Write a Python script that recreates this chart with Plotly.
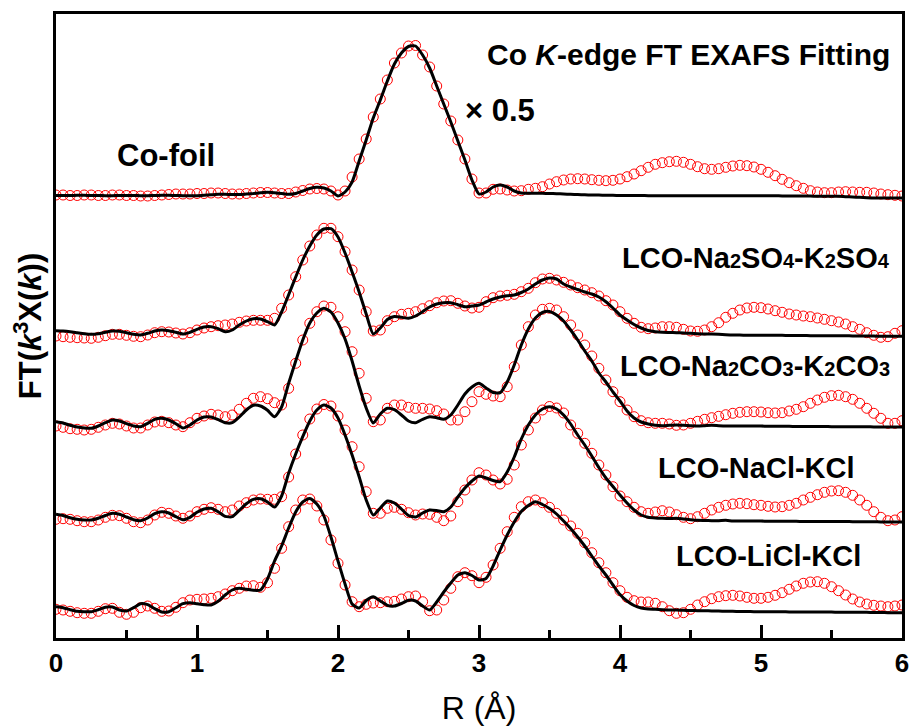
import numpy as np
import plotly.graph_objects as go

# R grid (Å), 0.05 step
R = np.round(np.linspace(0, 6, 121), 2)

# Curves: FT magnitude (a.u.) relative to each curve's own baseline
CO_FOIL_DATA = [
    2, 2, 1.5, 1.5, 2, 2, 1.5, 1.5, 2, 2, 1.5, 1.5, 1, 1, 1.5, 2, 2.5, 3, 3, 3,
    3.5, 3.5, 4, 4, 3.5, 3, 3, 3.5, 4, 4.5, 4.5, 4, 3.5, 3.5, 5, 6.5, 8, 8.5, 8, 6,
    2, 6, 20, 38, 58, 80, 98, 117, 134, 144, 151, 151.5, 142, 130, 111, 93, 76, 57, 38, 18,
    4, 4, 7.7, 8, 7, 6, 6.3, 7.7, 8.7, 10.3, 13, 15.3, 17, 18, 18.3, 18, 17.3, 16.7, 16.3, 16.7,
    18, 20.3, 23, 26.3, 29.7, 32.7, 34.3, 35.3, 35.7, 34.7, 32.7, 30.3, 28.3, 27.7, 28.3, 29.7, 31, 31.7, 31.3, 30,
    27.7, 24.7, 21.3, 17.7, 14.3, 11.3, 8.7, 6.3, 5, 4.3, 4.3, 5, 5.3, 5, 4.7, 4.7, 4, 3, 2.3, 1.7,
    1,
]
CO_FOIL_FIT = [
    1.5, 1.5, 1.5, 1.7, 1.7, 1.5, 1.5, 1.3, 1.3, 1.5, 1.5, 1.5, 1.3, 1.3, 1.5, 1.7, 1.7, 1.5, 1.3, 1.3,
    1.3, 1.7, 2.2, 2.7, 2.7, 2.5, 2.5, 3, 3.5, 4.2, 4.7, 4.2, 3.5, 2.7, 3.5, 6, 8.5, 9.7, 9, 6,
    1, 5, 15, 36, 57, 79, 97, 116, 133, 144, 150.5, 151, 142, 129, 111, 93, 75, 56, 37, 17,
    3, 5, 10, 12, 10, 6, 4, 3.7, 3.7, 3.7, 3.5, 3.3, 3, 2.7, 2.5, 2.2, 2, 2, 1.7, 1.7,
    1.5, 1.5, 1.5, 1.5, 1.3, 1.3, 1.3, 1.3, 1.3, 1.3, 1.3, 1.3, 1.3, 1.3, 1.3, 1.3, 1.3, 1.3, 1.3, 1.3,
    1.3, 1.3, 1.3, 1, 1, 1, 1, 1, 0.7, 0.7, 0.7, 0.7, 0.3, 0, -0.3, -0.7, -1, -1, -1, -1,
    -1,
]
NA2SO4_DATA = [
    0, -0.7, -1.3, -1.7, -2, -2.3, -1.3, 0.3, 1.7, 1.7, 0.7, -0.3, -0.7, 1, 3.3, 4.3, 4, 3, 2, 3.3,
    6, 8, 9.3, 10.3, 11, 12, 13.7, 15, 15.7, 15.7, 15.7, 17.7, 27.7, 41, 59.3, 76, 90, 101, 107.7, 107.7,
    99.3, 84.3, 66, 46, 24.3, 5, 6, 15.3, 19.3, 21.7, 22.7, 24.3, 27.3, 30.3, 33.3, 35, 35.3, 32.7, 30, 28,
    28.7, 34.3, 38.3, 40, 40.7, 41.7, 44.3, 47.7, 53.3, 57, 57.7, 56, 53.7, 51, 48.3, 46, 43.3, 40, 35.3, 31,
    24.3, 17.7, 12.7, 8.7, 7.3, 8, 9.3, 9.3, 8.7, 6.7, 5, 4.7, 6, 9.3, 13.3, 18.7, 22.7, 26, 28, 28.7,
    28.3, 27, 25.3, 23.7, 22, 21, 20, 19.3, 18, 16.7, 15.3, 14, 12, 9.3, 6.7, 3.3, 0.7, -1.3, -0.7, 2.7,
    5.3,
]
NA2SO4_FIT = [
    5.3, 5, 4.3, 3.3, 2.3, 1.7, 2.3, 3.7, 5, 4.7, 3.3, 1.7, 1, 2.7, 5, 6, 5.3, 3.7, 2, 3.7,
    6.7, 9, 9.3, 7.3, 4.3, 6, 11, 15, 17.3, 17, 14.3, 11, 24, 41.3, 59, 76, 90, 101, 107, 107.3,
    99, 83, 64, 44, 22, 2, 8, 16.5, 19.5, 18.7, 17.7, 20, 24.3, 29, 32, 33.3, 33.3, 31.3, 29.3, 30,
    31, 34, 37, 39, 40.3, 41, 43.5, 47, 52, 56, 58, 57, 52, 49, 46.5, 44, 42, 39, 34.3, 28,
    21, 16, 11.5, 8, 5.5, 4.3, 3.7, 3.5, 3.3, 3, 2.7, 2.3, 2, 2, 1.7, 1.3, 1, 1, 0.7, 0.7,
    0.7, 0.7, 0.7, 0.7, 0.5, 0.5, 0.5, 0.3, 0.3, 0.3, 0.3, 0.3, 0.3, 0, 0, 0, 0, -0.3, -0.3, -0.3,
    -0.3,
]
NA2CO3_DATA = [
    1, -0.3, -1.7, -2.3, -3, -2.3, -0.3, 2, 3.7, 3, 1, -1, -1, 2, 5, 5.7, 4.3, 2, 0.3, 4.3,
    8.7, 11, 12.7, 12, 10.3, 12, 17.7, 23.7, 28.7, 30.3, 28.3, 24.3, 22, 38.7, 63.7, 87, 103.7, 115.3, 121, 119.7,
    110.3, 95.3, 75.3, 53.7, 28.7, 5.3, 7, 18.7, 22, 22, 19.7, 18.7, 18.7, 18, 16.3, 13, 7, 7, 15.3, 25.3,
    35.3, 32.7, 31, 30.3, 40.3, 60.3, 82, 100.3, 112, 117.7, 118.7, 117, 110.3, 102, 92, 82, 71, 58.7, 47, 35.3,
    25.3, 17, 10.3, 6.3, 4.3, 3.7, 3.7, 3, 1.7, 2, 3.7, 5.7, 7.7, 9.3, 10.7, 12.3, 13.7, 14.7, 15.3, 15.3,
    15, 14.3, 14, 14.3, 16, 17.7, 20.3, 23.7, 27, 29.7, 31.3, 31.7, 30.3, 27.7, 23.7, 18.7, 13.7, 8.7, 3.7, 3.7,
    6.3,
]
NA2CO3_FIT = [
    5.3, 4, 1.7, 0, -1, -1.3, 1, 4.3, 7, 6, 3.3, 1, 0.3, 3.7, 7.7, 8.7, 7, 3.3, -1, 2,
    7, 10, 10, 7.3, 4.3, 4.3, 10, 17, 21.7, 21, 16.7, 10.3, 20, 43.7, 66, 87, 104, 114, 118.7, 115,
    104, 88, 66, 41, 19, 4, 13, 18.7, 17.3, 12, 6, 4.3, 7.7, 10.3, 9.3, 7.7, 12, 22, 33, 40,
    43.7, 39, 34.5, 34.3, 45, 62, 82, 98, 109, 114.5, 115.5, 112, 106, 97, 87, 76, 66, 54, 45, 35,
    26, 16, 9, 5, 3, 1.7, 1.3, 1.7, 2, 1.7, 1.3, 1, 1.3, 1.7, 1.3, 1, 1, 1, 1, 1,
    1, 0.7, 0.7, 0.7, 0.7, 0.5, 0.5, 0.5, 0.5, 0.5, 0.3, 0.3, 0.3, 0.3, 0.3, 0.3, 0, 0, 0, 0,
    0,
]
NACL_DATA = [
    2.7, 3.3, 2.7, 1.3, 0.3, 0.3, 2, 4.7, 6.7, 6.3, 3.7, 0.3, -0.7, 2, 7, 9.7, 8.7, 6, 3.7, 6,
    10.3, 12.7, 14.3, 12.7, 10.3, 12, 16, 19.3, 22, 23, 22.7, 22.7, 25.3, 45, 68, 87, 103, 113, 117.5, 116,
    106, 92, 75.3, 55.3, 30.3, 8.7, 8.7, 13.7, 14.7, 12.7, 9.3, 7, 8, 7.7, 4.7, 1.3, 6, 20.3, 32, 42,
    49.3, 47, 42, 38, 42.7, 57, 77, 92, 104, 112, 115.5, 114, 109, 97, 88.7, 78.7, 68.7, 57, 47, 35.3,
    26, 20.3, 14.7, 10.3, 8.7, 10, 11.3, 10, 7.3, 4.7, 3.3, 5.3, 8.7, 12, 14.7, 16.7, 18, 18.7, 18.3, 17.3,
    16.7, 15.7, 15, 15.3, 16.7, 18.7, 22, 24.7, 27.3, 29.7, 31, 31.3, 29.7, 26.7, 22, 16.7, 10.3, 4.7, 1.3, 2,
    5.3,
]
NACL_FIT = [
    7.7, 6.5, 4.3, 2.7, 2, 2, 3.7, 6.5, 8.7, 7.7, 5, 2.3, 1.3, 4, 8.3, 10.3, 9, 5.3, 2.3, 4.7,
    9.7, 13, 13.7, 10.3, 5.7, 5.3, 11.7, 18.3, 22.7, 23.3, 20, 15, 26, 48.7, 68, 85.3, 101, 112, 117, 114,
    104, 87, 67, 45.3, 22, 7, 14, 21, 19, 13, 6.5, 5, 9, 12, 11.5, 10.3, 15, 25, 34, 41,
    46, 44, 41.5, 40.3, 50, 65, 83, 97, 107, 113, 115.3, 113, 107, 98, 87, 77, 66, 54.5, 44, 35.5,
    27, 19, 12, 7, 4.7, 4, 3.7, 3.5, 3.7, 3, 2.3, 1.7, 1.5, 1.3, 1.3, 1.7, 1, 1, 1, 1,
    1, 0.7, 0.7, 0.7, 0.7, 0.7, 0.5, 0.5, 0.5, 0.5, 0.5, 0.5, 0.5, 0.3, 0.3, 0.3, 0.3, 0, 0, 0,
    0,
]
LICL_DATA = [
    3.7, 3, 1.7, 0.3, -0.3, -0.3, 1.7, 4.3, 4.7, 0.7, -1.3, 0.7, 5.3, 7, 4.7, 1.7, 2, 5.7, 10.3, 13,
    13.7, 14, 14.7, 16.3, 19, 22.3, 24.7, 27, 27.3, 25.7, 30.3, 44.7, 64.7, 86.3, 103, 113, 114, 107, 93, 73,
    49.7, 28, 11.3, 6.3, 8.7, 10, 10.3, 11.3, 11.7, 14, 16.3, 17, 11.3, 2.3, 3, 13, 24.7, 36.3, 40.3, 37.3,
    30.3, 35.7, 48, 64.7, 81.3, 95.7, 106.3, 111.3, 113, 110.3, 105.7, 99.7, 93, 87, 79.7, 70.3, 60.3, 50.3, 40.3, 30.3,
    22.3, 15.7, 12.3, 11, 11, 9.7, 6.3, 2.3, -0.3, 0.3, 3.7, 8, 11.3, 14.3, 16.3, 17.3, 17.7, 17, 15.7, 14.7,
    14.7, 15.7, 17.7, 20.3, 23.7, 27, 29.7, 31, 31.3, 29.7, 26.3, 22.3, 18, 14, 11, 9, 7.7, 7, 6.3, 7,
    8,
]
LICL_FIT = [
    6.3, 5.3, 3.3, 1.7, 1.3, 1.3, 3.3, 5.7, 6, 3, 2, 5.3, 9.3, 8.3, 4.3, 1, 1.3, 5.3, 9.3, 10.3,
    9.3, 8.3, 8, 11.7, 18, 23, 24.7, 23.7, 22.7, 23, 34, 52, 67, 85, 101, 111, 114.5, 109, 97, 76,
    52, 29, 9, 5, 12.5, 16.3, 12, 7.7, 7, 9.5, 12.7, 12, 7, 3, 11, 21, 30, 38, 40.3, 37.5,
    33, 34.5, 47, 63, 78, 91, 101.5, 107.5, 111.3, 108.5, 104.5, 99, 92, 84.5, 76, 67, 57, 47, 38, 28,
    18.5, 12, 7.5, 5, 4, 3.7, 3.3, 3, 3, 2.7, 2.5, 2.3, 2.3, 2, 2, 1.7, 1.7, 1.5, 1.5, 1.3,
    1.3, 1.3, 1.3, 1.3, 1, 1, 1, 1, 1, 1, 1, 0.7, 0.7, 0.7, 0.7, 0.7, 0.5, 0.5, 0.3, 0.3,
    0.3,
]

SERIES_NAMES = ["Co-foil", "LCO-Na2SO4-K2SO4", "LCO-Na2CO3-K2CO3", "LCO-NaCl-KCl", "LCO-LiCl-KCl"]
DATA = [CO_FOIL_DATA, NA2SO4_DATA, NA2CO3_DATA, NACL_DATA, LICL_DATA]
FITS = [CO_FOIL_FIT, NA2SO4_FIT, NA2CO3_FIT, NACL_FIT, LICL_FIT]
OFFSETS = [441, 302, 211, 116, 25]  # vertical stacking offsets

X_TICKS = [0, 1, 2, 3, 4, 5, 6]

FONT = "Arial, 'Liberation Sans', sans-serif"

fig = go.Figure()
for name, d, off in zip(SERIES_NAMES, DATA, OFFSETS):
    fig.add_trace(go.Scatter(
        x=R, y=np.array(d) + off, mode="markers", name=name + " data",
        marker=dict(symbol="circle-open", size=10, color="#ff0000",
                    line=dict(width=1, color="#ff0000")),
        showlegend=False,
    ))
for name, f, off in zip(SERIES_NAMES, FITS, OFFSETS):
    fig.add_trace(go.Scatter(
        x=R, y=np.array(f) + off, mode="lines", name=name + " fit",
        line=dict(color="black", width=3, shape="spline", smoothing=0.6),
        showlegend=False,
    ))

sub = lambda s: '<span style="font-size:20px">%s</span>' % s

annotations = [
    dict(x=5.93, y=584, xanchor="right", yanchor="middle",
         text="<b>Co <i>K</i>-edge FT EXAFS Fitting</b>", font=dict(size=30)),
    dict(x=2.887, y=528, xanchor="left", yanchor="middle",
         text="<b>× 0.5</b>", font=dict(size=31)),
    dict(x=0.78, y=483, xanchor="center", yanchor="middle",
         text="<b>Co-foil</b>", font=dict(size=31)),
    dict(x=5.93, y=380, xanchor="right", yanchor="middle",
         text="<b>LCO-Na" + sub("2") + "SO" + sub("4") + "-K" + sub("2") + "SO" + sub("4") + "</b>",
         font=dict(size=29)),
    dict(x=5.93, y=272, xanchor="right", yanchor="middle",
         text="<b>LCO-Na" + sub("2") + "CO" + sub("3") + "-K" + sub("2") + "CO" + sub("3") + "</b>",
         font=dict(size=29)),
    dict(x=4.965, y=170, xanchor="center", yanchor="middle",
         text="<b>LCO-NaCl-KCl</b>", font=dict(size=29)),
    dict(x=5.05, y=82, xanchor="center", yanchor="middle",
         text="<b>LCO-LiCl-KCl</b>", font=dict(size=29)),
]
for a in annotations:
    a.update(xref="x", yref="y", showarrow=False)
    a["font"].update(family=FONT, color="black")

fig.update_layout(
    width=912, height=728,
    margin=dict(l=56, r=10, t=14, b=90),
    paper_bgcolor="white", plot_bgcolor="white",
    font=dict(family=FONT, color="black"),
    annotations=annotations,
    xaxis=dict(
        range=[0, 6], tickvals=X_TICKS, ticktext=[str(t) for t in X_TICKS],
        showline=True, linewidth=2.5, linecolor="black", mirror=True,
        ticks="inside", ticklen=13, tickwidth=2.5, tickcolor="black",
        minor=dict(dtick=0.5, tick0=0, ticks="inside", ticklen=8, tickwidth=2.5,
                   tickcolor="black", showgrid=False),
        showgrid=False, zeroline=False,
        tickfont=dict(size=26, weight="bold", family=FONT),
        title=dict(text="R (Å)", font=dict(size=32, family=FONT), standoff=20),
        automargin=False,
    ),
    yaxis=dict(
        range=[0, 624], showline=True, linewidth=2.5, linecolor="black", mirror=True,
        ticks="", showticklabels=False, showgrid=False, zeroline=False,
        title=dict(text="<b>FT(<i>k</i><sup>3</sup>X(<i>k</i>))</b>",
                   font=dict(size=31, family=FONT), standoff=3),
        automargin=False,
    ),
)

fig.write_html(
    "out.html",
    config={"displayModeBar": False},
    post_script="document.body.style.margin='0';document.body.style.overflow='hidden';",
)
